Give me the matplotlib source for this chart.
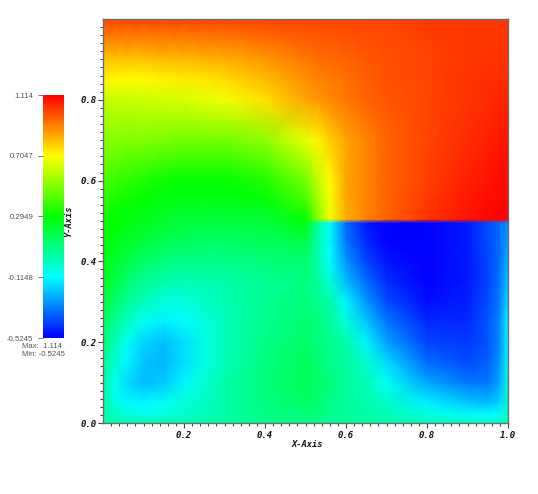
import numpy as np
import matplotlib
matplotlib.use('Agg')
import matplotlib.pyplot as plt
from matplotlib.colors import LinearSegmentedColormap, Normalize
from matplotlib.cm import ScalarMappable

W, H = 538, 494

# field samples, y=0.495/0.505 straddle the jump
x_pts = [0, .03, .06, .1, .15, .2, .25, .3, .4, .5, .53, .56, .6, .65, .7, .8, .9, .95, .98, 1.0]
y_pts = [0, .02, .05, .1, .15, .2, .25, .3, .35, .4, .45, .495, .505, .55, .6, .7, .8, .85, .9, 1.0]
field = [
    [.02, .02, .02, .02, .03, .03, .04, .05, .07, .08, .07, .06, .05, .04, .03, .0, -.02, -.03, -.03, .0],
    [.02, -.01, -.05, -.08, -.07, -.03, .0, .03, .08, .1, .09, .07, .05, .03, .0, -.06, -.1, -.11, -.1, -.02],
    [.03, -.07, -.125, -.125, -.1, -.05, -.02, .02, .09, .13, .12, .08, .05, .02, -.02, -.14, -.2, -.22, -.18, -.03],
    [.05, -.09, -.17, -.22, -.2, -.125, -.05, .02, .1, .16, .13, .09, .05, .0, -.1, -.25, -.33, -.33, -.25, -.06],
    [.07, -.05, -.13, -.21, -.23, -.16, -.07, .0, .09, .15, .12, .08, .04, -.03, -.17, -.35, -.4, -.37, -.28, -.09],
    [.1, .0, -.1, -.18, -.22, -.16, -.07, .0, .08, .13, .1, .07, .02, -.13, -.26, -.41, -.43, -.39, -.3, -.11],
    [.15, .06, -.01, -.1, -.14, -.12, -.06, .0, .07, .12, .09, .05, -.06, -.2, -.33, -.46, -.46, -.39, -.3, -.12],
    [.2, .12, .06, .0, -.06, -.06, -.02, .01, .06, .1, .07, .02, -.13, -.28, -.4, -.5, -.47, -.4, -.32, -.16],
    [.26, .18, .12, .06, .02, .0, .01, .02, .06, .09, .05, -.05, -.22, -.35, -.45, -.52, -.48, -.41, -.33, -.2],
    [.27, .22, .18, .13, .1, .08, .08, .08, .1, .12, .02, -.11, -.28, -.41, -.49, -.52, -.48, -.41, -.34, -.23],
    [.29, .26, .23, .2, .17, .15, .14, .14, .15, .18, .03, -.12, -.33, -.46, -.52, -.52, -.48, -.4, -.35, -.26],
    [.31, .29, .27, .24, .22, .2, .19, .19, .2, .27, .04, -.11, -.35, -.48, -.52, -.52, -.48, -.4, -.35, -.28],
    [.31, .29, .27, .25, .23, .21, .2, .2, .21, .29, .5, .68, .83, .9, .95, 1.03, 1.08, 1.1, 1.11, 1.114],
    [.36, .33, .31, .29, .27, .26, .26, .26, .28, .4, .55, .69, .84, .9, .95, 1.02, 1.07, 1.09, 1.1, 1.1],
    [.41, .38, .36, .34, .31, .3, .295, .295, .34, .48, .6, .71, .84, .9, .95, 1.01, 1.06, 1.08, 1.09, 1.1],
    [.51, .51, .5, .5, .49, .48, .48, .48, .52, .66, .72, .78, .85, .9, .95, 1.0, 1.04, 1.06, 1.07, 1.08],
    [.61, .61, .61, .62, .63, .64, .66, .68, .75, .85, .87, .89, .92, .95, .97, 1.0, 1.03, 1.04, 1.05, 1.05],
    [.72, .71, .71, .71, .72, .73, .74, .76, .81, .88, .9, .91, .93, .96, .98, 1.0, 1.03, 1.04, 1.04, 1.04],
    [.8, .8, .8, .8, .81, .81, .82, .83, .87, .92, .93, .94, .95, .97, .98, 1.0, 1.02, 1.03, 1.03, 1.03],
    [1.0, 1.0, 1.0, 1.0, 1.0, 1.0, 1.0, 1.0, 1.0, 1.0, 1.0, 1.0, 1.0, 1.0, 1.0, 1.02, 1.02, 1.02, 1.02, 1.03],
]
vmin, vmax = -0.5245, 1.114
bar_ticks = [1.114, 0.7047, 0.2949, -0.1148, -0.5245]
bar_labels = ['1.114', '0.7047', '0.2949', '-0.1148', '-0.5245']
x_major = [.2, .4, .6, .8, 1.0]
y_major = [0, .2, .4, .6, .8]

cmap = LinearSegmentedColormap.from_list('hot_visit', ['#0000ff', '#00ffff', '#00ff00', '#ffff00', '#ff0000'])
norm = Normalize(vmin, vmax)
grey = '#6e6e6e'
mono = dict(family='DejaVu Sans Mono', weight='bold', style='italic', color='#111111')


def px_axes(fig, left, top, right, bottom):
    return fig.add_axes([left / W, 1 - bottom / H, (right - left) / W, (bottom - top) / H])


fig = plt.figure(figsize=(W / 100, H / 100), dpi=100)

ax = px_axes(fig, 103, 19, 508, 423)
ax.pcolormesh(x_pts, y_pts, np.array(field), shading='gouraud', cmap=cmap, norm=norm, rasterized=True)
ax.set_xlim(0, 1)
ax.set_ylim(0, 1)
for s in ax.spines.values():
    s.set_color(grey)
    s.set_linewidth(1.0)
ax.set_xticks(x_major)
ax.set_xticklabels(['%.1f' % v for v in x_major], **mono, fontsize=6.5)
ax.set_yticks(y_major)
ax.set_yticklabels(['%.1f' % v for v in y_major], **mono, fontsize=6.5)
ax.set_xticks(np.arange(1, 50) * 0.02, minor=True)
ax.set_yticks(np.arange(1, 50) * 0.02, minor=True)
ax.tick_params(which='major', direction='out', length=3.6, width=0.8, color='#444444', pad=1)
ax.tick_params(axis='x', which='major', pad=2.5)
ax.tick_params(which='minor', direction='out', length=2.2, width=0.8, color='#444444')
fig.text(307 / W, 1 - 444 / H, 'X-Axis', ha='center', va='center', fontsize=6.3, **mono)
fig.text(69 / W, 1 - 221 / H, 'Y-Axis', ha='center', va='center', rotation=90, fontsize=6.3, **mono)

cax = px_axes(fig, 43, 95, 64, 338)
cb = fig.colorbar(ScalarMappable(norm=norm, cmap=cmap), cax=cax)
cb.outline.set_visible(False)
cb.set_ticks(bar_ticks)
cb.set_ticklabels(bar_labels)
cax.yaxis.set_ticks_position('left')
cax.tick_params(direction='out', length=3.6, width=0.7, color='#777777', labelsize=5.6, labelcolor='#555555', pad=3.5)
for t in cax.get_yticklabels():
    t.set_family('Liberation Sans')
cax.minorticks_off()

sans = dict(family='Liberation Sans', fontsize=5.6, color='#555555', ha='left', va='center')
fig.text(22 / W, 1 - 346 / H, 'Max:  1.114', **sans)
fig.text(22 / W, 1 - 354 / H, 'Min: -0.5245', **sans)

fig.savefig('out.png', dpi=100)
